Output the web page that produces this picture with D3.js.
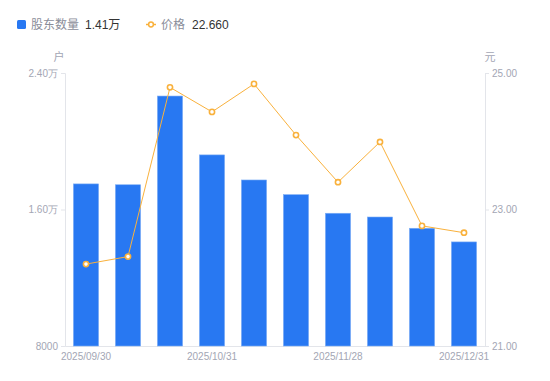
<!DOCTYPE html>
<html>
<head>
<meta charset="utf-8">
<script src="https://cdn.jsdelivr.net/npm/d3@7"></script>
<style>
  body { margin: 0; background: #fff; }
  svg { display: block; font-family: "Liberation Sans", "Noto Sans CJK SC", sans-serif; }
</style>
</head>
<body>
<svg id="chart"></svg>
<script>
// 数据
const dates = ['2025/09/30', '2025/10/10', '2025/10/20', '2025/10/31', '2025/11/10',
               '2025/11/20', '2025/11/28', '2025/12/10', '2025/12/19', '2025/12/31']
const holders = [17500, 17450, 22650, 19200, 17730, 16870, 15780, 15560, 14900, 14100]
const prices = [22.20, 22.31, 24.79, 24.43, 24.84, 24.09, 23.40, 23.99, 22.76, 22.66]
const holderTicks = [8000, 16000, 24000]
const priceTicks = [21, 23, 25]
const xLabelDates = ['2025/09/30', '2025/10/31', '2025/11/28', '2025/12/31']

const width = 550
const height = 381
const margin = { top: 73, right: 65, bottom: 35, left: 65 }
const barColor = '#2878f2'
const lineColor = '#f9b13c'
const textColor = '#a3a6b4'
const axisColor = '#e3e5ea'

const svg = d3.select('#chart').attr('width', width).attr('height', height)

const x = d3.scaleBand()
    .domain(dates)
    .range([margin.left, width - margin.right])
    .paddingInner(0.4)
    .paddingOuter(0.2)

const yLeft = d3.scaleLinear()
    .domain([8000, 24000])
    .range([height - margin.bottom, margin.top])

const yRight = d3.scaleLinear()
    .domain([21, 25])
    .range([height - margin.bottom, margin.top])

const fmtHolder = v => v >= 10000 ? (v / 10000).toFixed(2) + '万' : String(v)

// 左轴
const leftAxis = svg.append('g')
    .attr('transform', `translate(${margin.left},0)`)
    .call(d3.axisLeft(yLeft).tickValues(holderTicks).tickFormat(fmtHolder).tickSize(4).tickPadding(3))
leftAxis.select('.domain').attr('stroke', axisColor)
leftAxis.selectAll('.tick line').attr('stroke', axisColor)
leftAxis.selectAll('text').attr('fill', textColor).attr('font-size', 10)

// 右轴
const rightAxis = svg.append('g')
    .attr('transform', `translate(${width - margin.right},0)`)
    .call(d3.axisRight(yRight).tickValues(priceTicks).tickFormat(d3.format('.2f')).tickSize(4).tickPadding(3))
rightAxis.select('.domain').attr('stroke', axisColor)
rightAxis.selectAll('.tick line').attr('stroke', axisColor)
rightAxis.selectAll('text').attr('fill', textColor).attr('font-size', 10)

// 底轴
const bottomAxis = svg.append('g')
    .attr('transform', `translate(0,${height - margin.bottom})`)
    .call(d3.axisBottom(x).tickValues(xLabelDates).tickSize(0).tickPadding(7))
bottomAxis.select('.domain').attr('stroke', axisColor)
bottomAxis.selectAll('text').attr('fill', textColor).attr('font-size', 10)

// 单位
svg.append('text').text('户')
    .attr('x', margin.left - 6).attr('y', 61)
    .attr('text-anchor', 'middle').attr('font-size', 11).attr('fill', textColor)
svg.append('text').text('元')
    .attr('x', width - margin.right + 5).attr('y', 61)
    .attr('text-anchor', 'middle').attr('font-size', 11).attr('fill', textColor)

// 柱
svg.append('g').selectAll('rect').data(dates).enter()
    .append('rect')
    .attr('x', d => x(d))
    .attr('y', (d, i) => yLeft(holders[i]))
    .attr('width', x.bandwidth())
    .attr('height', (d, i) => yLeft(8000) - yLeft(holders[i]))
    .attr('fill', barColor)
    .attr('stroke', '#7eaef5')
    .attr('stroke-width', 0.6)

// 价格线
const line = d3.line()
    .x(d => x(d) + x.bandwidth() / 2)
    .y((d, i) => yRight(prices[i]))
svg.append('path')
    .datum(dates)
    .attr('d', line)
    .attr('fill', 'none')
    .attr('stroke', lineColor)
    .attr('stroke-width', 1)

svg.append('g').selectAll('circle').data(dates).enter()
    .append('circle')
    .attr('cx', d => x(d) + x.bandwidth() / 2)
    .attr('cy', (d, i) => yRight(prices[i]))
    .attr('r', 2.6)
    .attr('fill', '#fff')
    .attr('stroke', lineColor)
    .attr('stroke-width', 1.6)

// 图例
const legend = svg.append('g').attr('font-size', 12)
legend.append('rect')
    .attr('x', 17).attr('y', 20).attr('width', 9).attr('height', 9).attr('rx', 1.5)
    .attr('fill', barColor)
legend.append('text').text('股东数量')
    .attr('x', 31).attr('y', 29).attr('fill', '#8a8d99')
legend.append('text').text(fmtHolder(holders[holders.length - 1]))
    .attr('x', 85).attr('y', 29).attr('fill', '#333')

legend.append('line')
    .attr('x1', 146).attr('x2', 156).attr('y1', 24.5).attr('y2', 24.5)
    .attr('stroke', lineColor).attr('stroke-width', 1.5)
legend.append('circle')
    .attr('cx', 151).attr('cy', 24.5).attr('r', 2.4)
    .attr('fill', '#fff').attr('stroke', lineColor).attr('stroke-width', 1.5)
legend.append('text').text('价格')
    .attr('x', 161).attr('y', 29).attr('fill', '#8a8d99')
legend.append('text').text(prices[prices.length - 1].toFixed(3))
    .attr('x', 192).attr('y', 29).attr('fill', '#333')
</script>
</body>
</html>
